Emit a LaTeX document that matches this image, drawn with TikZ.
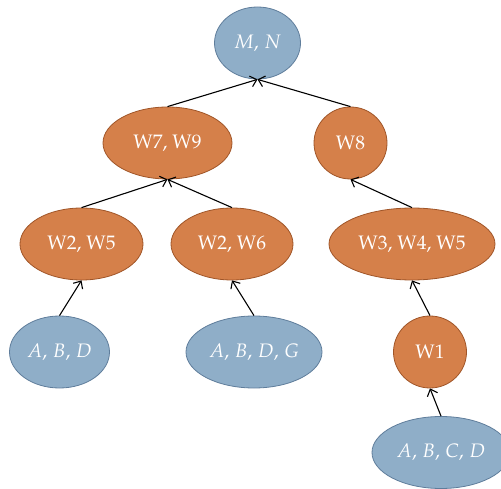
\documentclass[tikz,border=0pt]{standalone}
\usepackage[T1]{fontenc}
\usepackage{mathpazo}
\usetikzlibrary{shapes.geometric,arrows.meta}
\definecolor{bfill}{RGB}{143,174,200}
\definecolor{bdraw}{RGB}{95,125,155}
\definecolor{ofill}{RGB}{213,128,74}
\definecolor{odraw}{RGB}{160,85,40}
\tikzset{
  base/.style={ellipse, inner sep=0pt, minimum height=72pt, line width=0.8pt, text=white, font=\fontsize{19.5}{23}\selectfont},
  bnode/.style={base, fill=bfill, draw=bdraw},
  onode/.style={base, fill=ofill, draw=odraw},
  arr/.style={line width=1.1pt, -{Straight Barb[length=6pt,width=11pt]}},
}
\begin{document}
\begin{tikzpicture}[x=1pt,y=-1pt]
\useasboundingbox (0,0) rectangle (501,489);
\node[bnode, minimum width=86pt] (mn) at (257.5,43) {$M,\mkern2mu N$};
\node[onode, minimum width=129pt] (w79) at (167.5,143) {W7, W9};
\node[onode, minimum width=73pt] (w8) at (350.5,143) {W8};
\node[onode, minimum width=123pt] (w25) at (81.5,244) {W2, W5};
\node[onode, minimum width=122pt] (w26) at (232,244) {W2, W6};
\node[onode, minimum width=166pt] (w345) at (412,244) {W3, W4, W5};
\node[bnode, minimum width=100pt] (abd) at (59.5,352) {$A,\mkern2mu B,\mkern2mu D$};
\node[bnode, minimum width=136pt] (abdg) at (254,352) {$A,\mkern2mu B,\mkern2mu D,\mkern2mu G$};
\node[onode, minimum width=73pt] (w1) at (430,352) {W1};
\node[bnode, minimum width=138pt] (abcd) at (441,452.5) {$A,\mkern2mu B,\mkern2mu C,\mkern2mu D$};
\draw[arr] (w79.north) -- (mn.south);
\draw[arr] (w8.north) -- (mn.south);
\draw[arr] (w25.north) -- (w79.south);
\draw[arr] (w26.north) -- (w79.south);
\draw[arr] (w345.north) -- (w8.south);
\draw[arr] (abd.north) -- (w25.south);
\draw[arr] (abdg.north) -- (w26.south);
\draw[arr] (w1.north) -- (w345.south);
\draw[arr] (abcd.north) -- (w1.south);
\end{tikzpicture}
\end{document}
